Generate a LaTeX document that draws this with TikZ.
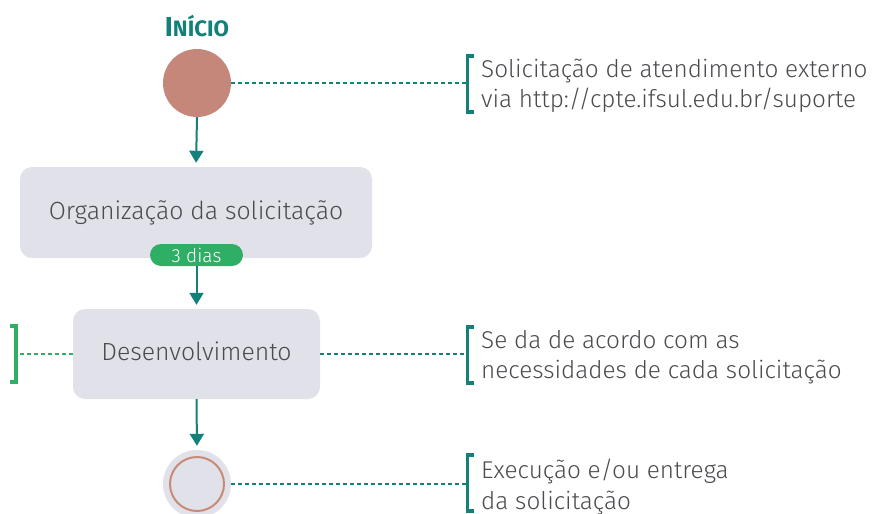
\documentclass[tikz,border=0pt]{standalone}
\usepackage{fontspec}
\setmainfont{Fira Sans}[UprightFont=* Light, BoldFont=* Bold]
\usetikzlibrary{arrows.meta,calc}
\definecolor{tealc}{HTML}{13807A}
\definecolor{greenc}{HTML}{2FAE66}
\definecolor{boxc}{HTML}{E1E1EA}
\definecolor{startc}{HTML}{C4877A}
\definecolor{ringc}{HTML}{C98A76}
\definecolor{txtc}{HTML}{4A4A4F}
\begin{document}
\begin{tikzpicture}[x=1pt,y=-1pt,
  procbox/.style={rectangle, rounded corners=12pt, fill=boxc, text=txtc, font=\fontsize{24.8}{28}\selectfont, inner sep=0pt, text height=17.5pt, text depth=4.5pt},
  flow/.style={draw=tealc, line width=2pt, -{Triangle[width=14pt,length=12pt]}},
  dotc/.style={draw=tealc, line width=2pt, dash pattern=on 4pt off 3pt},
  dotg/.style={draw=greenc, line width=2pt, dash pattern=on 4pt off 3pt},
  brk/.style={line width=3.3pt},
  note/.style={anchor=base west, align=left, text=txtc, font=\fontsize{24.3}{30.5}\selectfont, inner sep=0pt}
]
\useasboundingbox (0,0) rectangle (873,514);
% title
\node[anchor=base, text=tealc, font=\bfseries\fontsize{27.5}{30}\selectfont, inner sep=0pt] (title) at (197,36.7) {I\fontsize{22.3}{24}\selectfont NÍCIO};
% start
\node[circle, fill=startc, minimum size=68pt, inner sep=0pt] (start) at (197,83) {};
% box 1
\node[procbox, minimum width=352pt, minimum height=91pt] (org) at (196,212.5) {Organização da solicitação};
\node[rectangle, rounded corners=11pt, fill=greenc, text=white, minimum width=93pt, minimum height=22pt, inner sep=0pt, font=\fontsize{19}{20}\selectfont] (dias) at (196.5,255) {3 dias};
% box 2
\node[procbox, minimum width=247pt, minimum height=90pt] (dev) at (196.5,354) {Desenvolvimento};
% end
\node[circle, fill=boxc, minimum size=68pt, inner sep=0pt] (end) at (197,484) {};
\node[circle, draw=ringc, line width=2pt, minimum size=54pt, inner sep=0pt] (ring) at (end) {};
% arrows
\draw[flow, shorten >=4pt] (start.south) -- (org.north);
\draw[flow, shorten >=4pt] (dias.south) -- (dev.north);
\draw[flow, shorten >=4pt] (dev.south) -- (end.north);
% notes (base anchor = baseline of last line)
\node[note] (n1) at (481,107.5) {Solicitação de atendimento externo\\via http://cpte.ifsul.edu.br/suporte};
\node[note] (n2) at (481,378.5) {Se da de acordo com as\\necessidades de cada solicitação};
\node[note] (n3) at (481,509) {Execução e/ou entrega\\da solicitação};
% brackets
\coordinate (b1) at (467.5,84);
\coordinate (b2) at (467.5,355);
\coordinate (b3) at (467.5,483);
\coordinate (bl) at (16,354);
\draw[brk, tealc] ($(b1)+(6,-28)$) -- ($(b1)+(0,-28)$) -- ($(b1)+(0,28)$) -- ($(b1)+(6,28)$);
\draw[brk, tealc] ($(b2)+(6,-28)$) -- ($(b2)+(0,-28)$) -- ($(b2)+(0,28)$) -- ($(b2)+(6,28)$);
\draw[brk, tealc] ($(b3)+(6,-28)$) -- ($(b3)+(0,-28)$) -- ($(b3)+(0,28)$) -- ($(b3)+(6,28)$);
\draw[brk, greenc] ($(bl)+(-6,-28)$) -- ($(bl)+(0,-28)$) -- ($(bl)+(0,28)$) -- ($(bl)+(-6,28)$);
% dotted connectors
\draw[dotc] (start.east) -- (start.east -| b1);
\draw[dotc] (dev.east) -- (b2 |- dev.east);
\draw[dotc] (end.east) -- (end.east -| b3);
\draw[dotg] (dev.west) -- (bl);
\end{tikzpicture}
\end{document}
